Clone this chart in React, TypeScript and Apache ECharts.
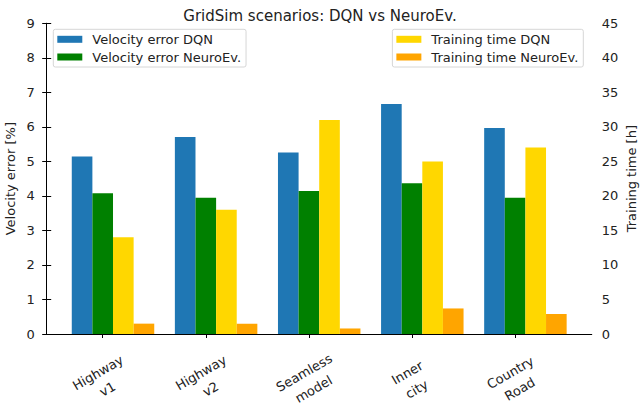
import React, { useEffect, useRef } from "react";
import * as echarts from "echarts";

const categories = ["Highway\nv1", "Highway\nv2", "Seamless\nmodel", "Inner\ncity", "Country\nRoad"];
const velocityDQN = [5.14, 5.71, 5.26, 6.66, 5.97];
const velocityNeuroEv = [4.08, 3.95, 4.14, 4.37, 3.95];
const trainingDQN = [14, 18, 31, 25, 27];
const trainingNeuroEv = [1.5, 1.5, 0.8, 3.7, 2.9];
const spacer = [null, null, null, null, null];

const FONT = "DejaVu Sans";
const TXT = "#222";

export default function App() {
  const ref = useRef<HTMLDivElement>(null);
  useEffect(() => {
    if (!ref.current) return;
    const chart = echarts.init(ref.current, undefined, { renderer: "svg" });
    const frameTop = 23.3;
    const frameH = 310.7;
    const axisLine = { show: true, lineStyle: { color: "#000", width: 1 } };
    const tick = { show: true, inside: false, length: 4.5, lineStyle: { color: "#000", width: 1 } };
    const labelStyle = { color: TXT, fontFamily: FONT, fontSize: 13 };
    const barCommon = { type: "bar" as const, xAxisIndex: 2, barGap: "0%", barCategoryGap: "0%" };
    const legendCommon = {
      orient: "vertical" as const,
      top: 29.3,
      padding: [3.5, 5, 3.5, 4],
      itemWidth: 25,
      itemHeight: 7,
      itemGap: 4.7,
      icon: "rect",
      borderColor: "#d6d6d6",
      borderWidth: 1,
      borderRadius: 2,
      backgroundColor: "rgba(255,255,255,0.8)",
      textStyle: { ...labelStyle, padding: [0, 0, 0, 5] },
      selectedMode: false,
    };
    chart.setOption({
      animation: false,
      backgroundColor: "#fff",
      textStyle: { fontFamily: FONT },
      title: {
        text: "GridSim scenarios: DQN vs NeuroEv.",
        left: "center",
        top: 3,
        textStyle: { color: TXT, fontFamily: FONT, fontSize: 15, fontWeight: "normal" },
      },
      legend: [
        { ...legendCommon, data: ["Velocity error DQN", "Velocity error NeuroEv."], left: 53.3 },
        { ...legendCommon, data: ["Training time DQN", "Training time NeuroEv."], right: 56.7 },
      ],
      grid: [
        { left: 46.7, top: frameTop, width: 545, height: frameH, containLabel: false, outerBoundsMode: "none" },
        { left: 51.15, top: frameTop, width: 515.5, height: frameH, containLabel: false, outerBoundsMode: "none" },
      ],
      xAxis: [
        {
          gridIndex: 0,
          type: "value",
          min: 0,
          max: 1,
          position: "bottom",
          axisLine,
          axisTick: { show: false },
          axisLabel: { show: false },
          splitLine: { show: false },
        },
        {
          gridIndex: 0,
          type: "value",
          min: 0,
          max: 1,
          position: "top",
          axisLine,
          axisTick: { show: false },
          axisLabel: { show: false },
          splitLine: { show: false },
        },
        {
          gridIndex: 1,
          type: "category",
          data: categories,
          position: "bottom",
          axisLine: { show: false },
          axisTick: { ...tick, length: 4, alignWithLabel: true },
          axisLabel: {
            ...labelStyle,
            rotate: 30,
            align: "center",
            verticalAlign: "middle",
            margin: 47,
            lineHeight: 19,
            interval: 0,
          },
          splitLine: { show: false },
        },
      ],
      yAxis: [
        {
          gridIndex: 0,
          type: "value",
          min: 0,
          max: 9,
          interval: 1,
          position: "left",
          axisLine,
          axisTick: tick,
          axisLabel: { ...labelStyle, margin: 12 },
          splitLine: { show: false },
          name: "Velocity error [%]",
          nameLocation: "middle",
          nameGap: 30,
          nameMoveOverlap: false,
          nameTextStyle: { ...labelStyle },
        },
        {
          gridIndex: 0,
          type: "value",
          min: 0,
          max: 45,
          interval: 5,
          position: "right",
          axisLine,
          axisTick: tick,
          axisLabel: { ...labelStyle, margin: 10 },
          splitLine: { show: false },
          name: "Training time [h]",
          nameLocation: "middle",
          nameGap: 33,
          nameMoveOverlap: false,
          nameTextStyle: { ...labelStyle },
        },
        { gridIndex: 1, type: "value", min: 0, max: 9, show: false },
        { gridIndex: 1, type: "value", min: 0, max: 45, show: false },
      ],
      series: [
        { ...barCommon, name: "spacer", yAxisIndex: 2, data: spacer, silent: true },
        { ...barCommon, name: "Velocity error DQN", yAxisIndex: 2, data: velocityDQN, itemStyle: { color: "#1f77b4" } },
        { ...barCommon, name: "Velocity error NeuroEv.", yAxisIndex: 2, data: velocityNeuroEv, itemStyle: { color: "#008000" } },
        { ...barCommon, name: "Training time DQN", yAxisIndex: 3, data: trainingDQN, itemStyle: { color: "#ffd700" } },
        { ...barCommon, name: "Training time NeuroEv.", yAxisIndex: 3, data: trainingNeuroEv, itemStyle: { color: "#ffa500" } },
      ],
    });
    return () => chart.dispose();
  }, []);
  return <div ref={ref} style={{ width: 640, height: 407, position: "absolute", left: 0, top: 0 }} />;
}
